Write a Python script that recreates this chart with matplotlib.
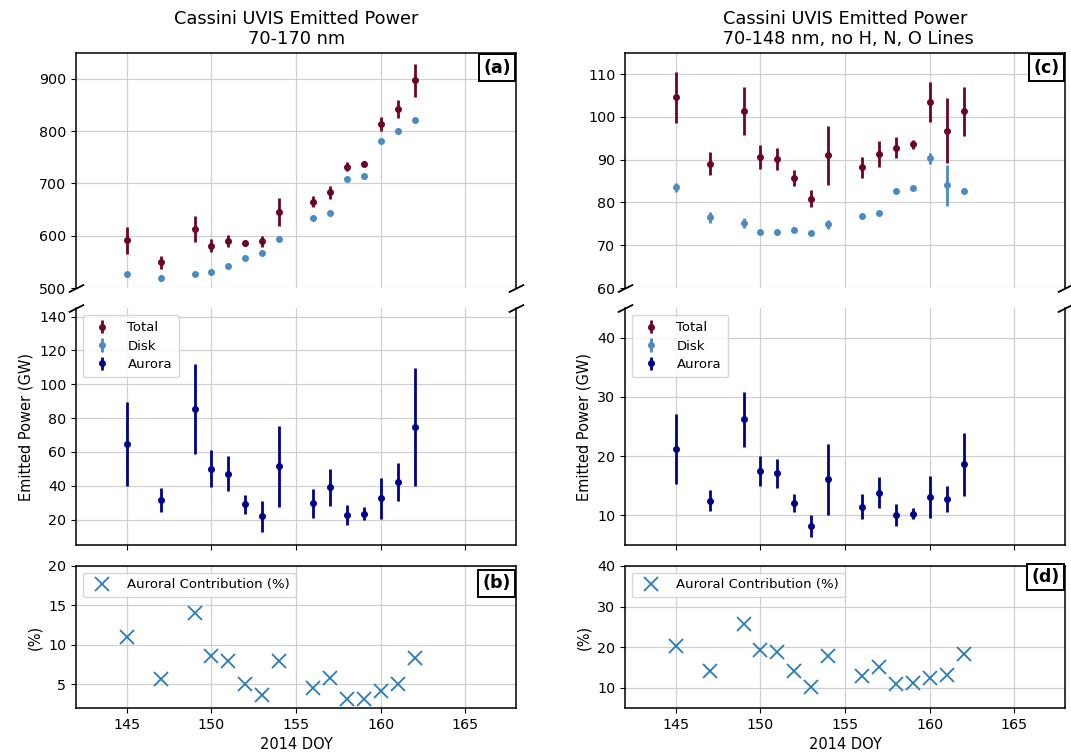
# ── IMPORTS ───────────────────────────────────────────────────────────────────

import matplotlib
matplotlib.use("Agg")
import matplotlib.pyplot as plt

# ── DATA ──────────────────────────────────────────────────────────────────────

doy = [145, 147, 149, 150, 151, 152, 153, 154, 156, 157, 158, 159, 160, 161, 162]

# 70-170 nm
total_170 = [591, 549, 613, 581, 590, 586, 589, 646, 665, 683, 732, 738, 814, 842, 897]
total_170_err = [25, 12, 25, 12, 12, 6, 10, 27, 11, 13, 9, 4, 14, 17, 32]
disk_170 = [526, 519, 527, 531, 543, 557, 567, 594, 634, 644, 709, 714, 782, 800, 822]
disk_170_err = [5, 6, 3, 3, 3, 3, 3, 3, 4, 3, 3, 3, 3, 5, 4]
aurora_170 = [64.6, 31.4, 85.3, 50.2, 47.2, 29.0, 21.9, 51.4, 29.6, 39.1, 22.7, 23.5, 32.6, 42.3, 74.8]
aurora_170_err = [25, 7, 26.5, 11, 10.5, 5.4, 9, 24, 8.6, 11, 6, 3.8, 12, 11, 35]
pct_170 = [11.0, 5.7, 14.0, 8.6, 8.0, 5.0, 3.7, 8.0, 4.5, 5.85, 3.1, 3.15, 4.1, 5.0, 8.3]

# 70-148 nm, no H, N, O lines
total_148 = [104.6, 89.1, 101.4, 90.6, 90.2, 85.7, 80.9, 91.0, 88.2, 91.4, 92.8, 93.6, 103.4, 96.8, 101.3]
total_148_err = [6, 2.6, 5.6, 2.8, 2.6, 1.8, 2, 6.9, 2.5, 3, 2.4, 1.1, 4.7, 7.6, 5.8]
disk_148 = [83.5, 76.5, 75.2, 73.1, 73.1, 73.5, 72.8, 74.9, 76.8, 77.6, 82.6, 83.4, 90.3, 84.0, 82.7]
disk_148_err = [1, 1.2, 1.2, 0.4, 0.4, 0.4, 0.4, 1, 0.5, 0.5, 0.5, 0.5, 1.2, 4.8, 0.5]
aurora_148 = [21.2, 12.5, 26.2, 17.5, 17.1, 12.1, 8.2, 16.1, 11.5, 13.8, 10.05, 10.3, 13.1, 12.75, 18.6]
aurora_148_err = [5.9, 1.8, 4.6, 2.5, 2.4, 1.5, 1.9, 6, 2.1, 2.6, 1.8, 0.9, 3.6, 2.2, 5.3]
pct_148 = [20.2, 14.0, 25.8, 19.3, 18.8, 14.1, 10.1, 17.8, 13.0, 15.2, 11.0, 11.1, 12.5, 13.2, 18.3]

# ── STYLE ─────────────────────────────────────────────────────────────────────

COL_TOTAL = "#6b0425"
COL_DISK = "#4a8cc2"
COL_AURORA = "#00008b"
COL_PCT = "#2b7bb9"
GRID_COL = "#d0d0d0"

plt.rcParams["font.family"] = "DejaVu Sans"
plt.rcParams["xtick.labelsize"] = 10.3
plt.rcParams["ytick.labelsize"] = 10.3
plt.rcParams["axes.linewidth"] = 1.1

fig = plt.figure(figsize=(10.71, 7.53), dpi=100)

# axes positions in figure fractions: [left, bottom, width, height]
COLS = [0.071, 0.5836]
WIDTH = 0.411
ROW_TOP = (0.6175, 0.3125)
ROW_MID = (0.2762, 0.3147)
ROW_BOT = (0.0598, 0.1886)


def series_errorbars(ax, total, total_err, disk, disk_err, aurora, aurora_err):
    kw = dict(fmt="o", markersize=4, elinewidth=2, capsize=0)
    ax.errorbar(doy, total, yerr=total_err, color=COL_TOTAL, label="Total", **kw)
    ax.errorbar(doy, disk, yerr=disk_err, color=COL_DISK, label="Disk", **kw)
    ax.errorbar(doy, aurora, yerr=aurora_err, color=COL_AURORA, label="Aurora", **kw)


def panel_tag(ax, tag, y=0.975):
    ax.text(0.988, y, tag, transform=ax.transAxes, ha="right", va="top",
            fontsize=12.5, fontweight="bold", zorder=10,
            bbox=dict(boxstyle="square,pad=0.25", fc="white", ec="black", lw=1.4))


def style_common(ax):
    ax.set_xlim(142, 168)
    ax.set_xticks([145, 150, 155, 160, 165])
    ax.grid(True, color=GRID_COL, linewidth=0.9)
    ax.set_axisbelow(True)


def draw_column(col, title, top_lim, top_ticks, mid_lim, mid_ticks, bot_lim, bot_ticks,
                total, total_err, disk, disk_err, aurora, aurora_err, pct, tags):
    left = COLS[col]
    ax_top = fig.add_axes([left, ROW_TOP[0], WIDTH, ROW_TOP[1]])
    ax_mid = fig.add_axes([left, ROW_MID[0], WIDTH, ROW_MID[1]])
    ax_bot = fig.add_axes([left, ROW_BOT[0], WIDTH, ROW_BOT[1]])

    # broken axis: same series on top and middle
    for ax in (ax_top, ax_mid):
        series_errorbars(ax, total, total_err, disk, disk_err, aurora, aurora_err)
        style_common(ax)

    ax_top.set_ylim(*top_lim)
    ax_top.set_yticks(top_ticks)
    ax_mid.set_ylim(*mid_lim)
    ax_mid.set_yticks(mid_ticks)

    ax_top.spines["bottom"].set_visible(False)
    ax_mid.spines["top"].set_visible(False)
    ax_top.tick_params(axis="x", bottom=False, labelbottom=False)
    ax_mid.tick_params(axis="x", labelbottom=False)

    # diagonal break marks
    d = 0.5
    kw = dict(marker=[(-1, -d), (1, d)], markersize=11, linestyle="none",
              color="k", mec="k", mew=1.3, clip_on=False)
    ax_top.plot([0, 1], [0, 0], transform=ax_top.transAxes, **kw)
    ax_mid.plot([0, 1], [1, 1], transform=ax_mid.transAxes, **kw)

    ax_top.set_title(title, fontsize=12.8, pad=6)
    ax_mid.set_ylabel("Emitted Power (GW)", fontsize=10.5)
    ax_mid.legend(loc="upper left", fontsize=9.5, handletextpad=0.9,
                  borderpad=0.5, labelspacing=0.4)

    # auroral contribution
    ax_bot.plot(doy, pct, "x", color=COL_PCT, markersize=10, mew=1.3,
                label="Auroral Contribution (%)")
    style_common(ax_bot)
    ax_bot.set_ylim(*bot_lim)
    ax_bot.set_yticks(bot_ticks)
    ax_bot.set_ylabel("(%)", fontsize=10.5)
    ax_bot.set_xlabel("2014 DOY", fontsize=10.5)
    ax_bot.legend(loc="upper left", fontsize=9.5, handletextpad=0.9, borderpad=0.45)

    panel_tag(ax_top, tags[0])
    panel_tag(ax_bot, tags[1], y=0.94 if col == 0 else 0.985)


draw_column(0, "Cassini UVIS Emitted Power\n70-170 nm",
            (500, 950), [500, 600, 700, 800, 900],
            (5, 145), [20, 40, 60, 80, 100, 120, 140],
            (2, 20), [5, 10, 15, 20],
            total_170, total_170_err, disk_170, disk_170_err,
            aurora_170, aurora_170_err, pct_170, ("(a)", "(b)"))

draw_column(1, "Cassini UVIS Emitted Power\n 70-148 nm, no H, N, O Lines",
            (60, 115), [60, 70, 80, 90, 100, 110],
            (5, 45), [10, 20, 30, 40],
            (5, 40), [10, 20, 30, 40],
            total_148, total_148_err, disk_148, disk_148_err,
            aurora_148, aurora_148_err, pct_148, ("(c)", "(d)"))

fig.savefig("out.png", dpi=100)
